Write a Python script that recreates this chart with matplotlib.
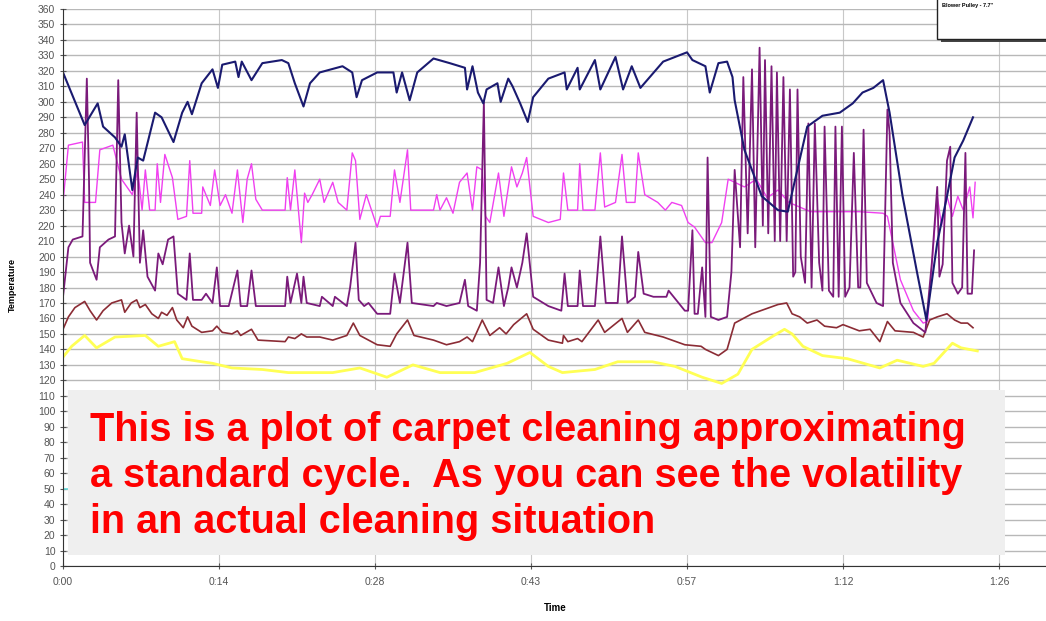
import numpy as np
import matplotlib
matplotlib.use("Agg")
import matplotlib.pyplot as plt
from matplotlib.patches import Rectangle

# time in minutes, temperature in F
navy_t = [0, 2.0, 3.2, 3.7, 4.8, 5.4, 5.7, 6.4, 6.9, 7.4, 8.5, 9.1, 10.2, 11.0, 11.5, 11.9, 12.8, 13.8,
          14.3, 14.7, 15.9, 16.2, 16.5, 17.4, 18.4, 20.2, 20.8, 21.4, 22.2, 22.8, 23.7, 25.8, 26.7, 27.1,
          27.6, 29.0, 30.5, 30.8, 31.3, 32.0, 32.7, 34.2, 35.7, 37.1, 37.3, 37.8, 38.3, 38.8, 39.1, 40.1,
          40.4, 41.1, 41.5, 42.2, 42.9, 43.4, 44.8, 46.3, 46.5, 47.5, 47.7, 49.1, 49.6, 51.0, 51.7, 52.5,
          53.3, 55.4, 57.6, 58.1, 59.3, 59.7, 60.5, 61.3, 61.8, 62.0, 62.9, 64.5, 66.0, 66.9, 68.7, 70.1,
          71.7, 72.9, 73.8, 74.8, 75.7, 76.3, 77.5, 78.8, 79.7, 80.7, 81.6, 82.3, 83.1, 84.0]
navy_v = [319, 285, 299, 284, 277, 271, 279, 243, 264, 262, 293, 290, 274, 293, 300, 292, 312, 321,
          309, 324, 326, 316, 326, 314, 325, 327, 325, 312, 297, 312, 319, 323, 319, 303,
          314, 319, 319, 306, 319, 301, 319, 328, 325, 322, 308, 323, 306, 299, 308, 312,
          300, 315, 310, 299, 287, 303, 315, 319, 308, 322, 308, 327, 308, 329, 308, 323,
          309, 326, 332, 327, 323, 306, 325, 326, 316, 301, 269, 239, 230, 229, 284, 291,
          293, 299, 306, 309, 314, 293, 239, 191, 159, 209, 239, 264, 275, 290]

magenta_t = [0, 0.5, 1.8, 2.0, 3.0, 3.4, 4.6, 5.4, 6.4, 6.9, 7.3, 7.6, 8.0, 8.5, 8.7, 9.0, 9.4, 10.1,
             10.6, 11.4, 11.7, 12.0, 12.8, 12.9, 13.6, 14.0, 14.5, 15.0, 15.6, 16.1, 16.6, 17.0, 17.4,
             17.8, 18.4, 20.5, 20.7, 21.0, 21.4, 22.0, 22.3, 22.6, 23.0, 23.7, 24.1, 24.9, 25.4, 26.2,
             26.7, 27.0, 27.4, 28.0, 29.0, 29.3, 30.2, 30.6, 31.1, 31.8, 32.1, 34.2, 34.5, 34.8, 35.4,
             36.0, 36.6, 37.3, 37.8, 38.2, 38.7, 39.0, 39.4, 40.2, 40.7, 41.4, 41.9, 42.4, 42.8, 43.4,
             44.8, 45.9, 46.2, 46.6, 47.5, 47.7, 48.0, 49.1, 49.6, 50.0, 51.0, 51.6, 52.0, 52.8, 53.1,
             53.7, 54.9, 55.6, 56.2, 57.1, 57.7, 58.3, 59.3, 59.9, 60.8, 61.4, 62.0, 62.9, 64.0, 65.0,
             66.0, 67.0, 68.0, 69.0, 71.0, 73.5, 75.7, 76.1, 77.3, 78.5, 79.4, 79.8, 80.7, 81.1, 81.6,
             82.1, 82.6, 83.1, 83.7, 84.0, 84.2]
magenta_v = [235, 272, 274, 235, 235, 269, 272, 250, 240, 256, 230, 256, 230, 230, 260, 235, 266, 251,
             224, 226, 262, 228, 228, 245, 233, 256, 233, 240, 228, 256, 222, 250, 260,
             237, 230, 230, 251, 230, 256, 209, 241, 235, 240, 250, 235, 248, 235, 230,
             267, 262, 224, 240, 219, 226, 226, 256, 235, 269, 230, 230, 240, 230, 238,
             228, 248, 254, 230, 258, 256, 226, 222, 254, 226, 258, 245, 254, 264, 226,
             222, 224, 254, 230, 230, 260, 230, 230, 267, 232, 235, 266, 235, 235, 267,
             240, 235, 230, 235, 233, 222, 219, 209, 209, 222, 250, 248, 245, 250, 238,
             243, 235, 232, 229, 229, 229, 228, 226, 185, 165, 157, 158, 239, 220, 239,
             226, 239, 230, 245, 225, 248]

purple_t = [0, 0.5, 0.9, 1.8, 2.2, 2.4, 2.5, 3.1, 3.4, 4.2, 4.8, 5.1, 5.4, 5.7, 6.1, 6.5, 6.8, 7.1, 7.4,
            7.8, 8.5, 8.8, 9.2, 9.7, 10.2, 10.6, 11.4, 11.7, 12.0, 12.8, 13.2, 13.8, 14.2, 14.5, 15.3,
            16.1, 16.4, 17.0, 17.4, 17.8, 20.5, 20.7, 21.0, 21.6, 22.0, 22.2, 22.5, 23.7, 23.9, 24.9,
            25.1, 26.2, 26.5, 27.0, 27.3, 27.8, 28.2, 29.0, 30.2, 30.6, 31.1, 31.8, 32.2, 34.2, 34.5,
            35.4, 36.6, 37.1, 37.4, 38.2, 38.5, 38.7, 38.85, 39.1, 39.7, 40.2, 40.7, 41.1, 41.4, 41.9,
            42.4, 42.8, 43.4, 44.8, 46.0, 46.3, 46.6, 47.5, 47.7, 48.0, 49.1, 49.6, 50.1, 51.2, 51.6,
            52.1, 52.8, 53.1, 53.6, 54.5, 55.7, 55.9, 57.4, 57.7, 58.1, 58.3, 58.6, 59.0, 59.3, 59.5,
            59.8, 60.5, 61.3, 61.7, 62.0, 62.5, 62.8, 63.2, 63.6, 63.9, 64.3, 64.6, 64.8, 65.1, 65.4,
            65.7, 65.9, 66.2, 66.5, 66.8, 67.1, 67.4, 67.6, 67.8, 68.1, 68.5, 68.8, 69.1, 69.4, 69.8,
            70.1, 70.3, 70.7, 71.1, 71.3, 71.6, 71.9, 72.2, 72.6, 73.0, 73.4, 73.6, 73.9, 74.2, 75.1,
            75.7, 76.1, 76.3, 76.6, 77.3, 78.5, 79.6, 80.2, 80.7, 80.9, 81.2, 81.6, 81.9, 82.1, 82.6,
            83.0, 83.3, 83.5, 83.9, 84.1]
purple_v = [174, 206, 211, 213, 315, 250, 196, 185, 206, 211, 213, 314, 222, 202, 220, 200, 293, 196, 217,
            187, 178, 202, 195, 211, 213, 176, 172, 202, 172, 172, 176, 170, 193, 168, 168,
            191, 168, 168, 191, 168, 168, 187, 170, 189, 170, 187, 170, 168, 174, 168,
            174, 168, 180, 209, 172, 168, 170, 163, 163, 189, 170, 209, 170, 168, 170,
            168, 170, 185, 168, 165, 196, 256, 300, 172, 170, 193, 168, 180, 193, 180,
            196, 215, 174, 168, 165, 189, 168, 168, 191, 168, 168, 213, 170, 170, 213,
            170, 174, 203, 176, 174, 174, 178, 165, 165, 217, 163, 163, 193, 161, 264,
            161, 159, 161, 190, 256, 206, 316, 215, 321, 206, 335, 220, 327, 215, 323,
            210, 319, 210, 316, 210, 308, 187, 190, 308, 200, 183, 286, 180, 286, 196,
            178, 284, 178, 174, 284, 174, 284, 174, 180, 267, 180, 180, 282, 183, 170,
            168, 295, 280, 196, 170, 157, 151, 196, 245, 187, 195, 262, 271, 183, 176,
            180, 267, 176, 176, 204]

brown_t = [0, 0.5, 1.1, 2.0, 2.5, 3.1, 3.7, 4.5, 5.4, 5.7, 6.3, 6.8, 7.1, 7.6, 8.2, 8.8, 9.1, 9.6, 10.1,
           10.5, 11.1, 11.5, 11.9, 12.8, 13.8, 14.2, 14.7, 15.6, 16.1, 16.4, 17.4, 18.0, 20.5, 20.8, 21.4,
           22.0, 22.5, 23.7, 24.9, 26.2, 26.8, 27.4, 29.0, 30.2, 30.8, 31.8, 32.4, 34.2, 35.4, 36.6, 37.3,
           37.8, 38.7, 39.4, 40.3, 40.9, 41.6, 42.8, 43.4, 44.8, 46.1, 46.2, 46.6, 47.5, 47.9, 49.4, 50.0,
           51.6, 52.1, 53.1, 53.7, 55.4, 57.4, 58.9, 59.3, 60.5, 61.3, 62.0, 63.6, 66.0, 66.8, 67.3, 68.0,
           68.7, 69.6, 70.3, 71.4, 72.0, 73.5, 74.5, 75.4, 76.1, 76.8, 78.5, 79.4, 80.0, 80.7, 81.6, 82.3,
           82.9, 83.5, 84.0]
brown_v = [153, 161, 167, 171, 165, 159, 165, 170, 172, 164, 170, 172, 167, 169, 163, 160, 164, 162, 167,
           159, 154, 161, 155, 151, 152, 155, 151, 150, 152, 149, 153, 146, 145, 148, 147,
           150, 148, 148, 146, 149, 157, 149, 143, 142, 150, 159, 149, 146, 143, 145, 148,
           145, 159, 149, 154, 150, 156, 163, 153, 146, 144, 149, 145, 147, 145, 159, 151,
           160, 151, 159, 151, 148, 143, 142, 140, 136, 140, 157, 163, 169, 170, 163, 161,
           157, 159, 155, 154, 156, 152, 153, 145, 158, 152, 151, 148, 159, 161, 163, 159,
           157, 157, 154]

yellow_t = [0, 0.8, 2.0, 3.1, 4.8, 7.6, 8.8, 10.3, 11.0, 12.8, 13.8, 15.6, 18.4, 20.8, 21.9, 24.9, 27.4,
            29.9, 32.3, 34.8, 38.0, 39.5, 41.0, 43.1, 44.8, 46.1, 49.1, 51.2, 54.4, 56.5, 59.0, 60.8,
            62.3, 63.6, 65.4, 66.6, 67.3, 68.3, 70.1, 72.4, 75.4, 77.0, 79.4, 80.4, 82.1, 82.9, 84.4]
yellow_v = [135, 142, 149, 141, 148, 149, 142, 145, 134, 132, 131, 128, 127, 125, 125, 125, 128,
            122, 130, 125, 125, 128, 131, 138, 129, 125, 127, 132, 132, 129, 122, 118,
            124, 140, 148, 153, 150, 142, 136, 134, 128, 133, 129, 131, 144, 141, 139]

cyan_t = [0, 84.0]
cyan_v = [50, 50]

tick_minutes = [0, 14.4, 28.8, 43.2, 57.6, 72.0, 86.4]
tick_labels = ["0:00", "0:14", "0:28", "0:43", "0:57", "1:12", "1:26"]

note_lines = ["This is a plot of carpet cleaning approximating",
              "a standard cycle.  As you can see the volatility",
              "in an actual cleaning situation"]

plt.rcParams['font.family'] = ['Liberation Sans', 'DejaVu Sans']

fig = plt.figure(figsize=(10.46, 6.21), dpi=100)
ax = fig.add_axes([63 / 1046, 55 / 621, 1 - 63 / 1046, 557 / 621])

ax.plot(cyan_t, cyan_v, color='#66dddd', lw=1.2)
ax.plot(yellow_t, yellow_v, color='#ffff55', lw=2.0)
ax.plot(brown_t, brown_v, color='#8b2c35', lw=1.2)
ax.plot(magenta_t, magenta_v, color='#f040f0', lw=1.0)
ax.plot(purple_t, purple_v, color='#7a1a7a', lw=1.3)
ax.plot(navy_t, navy_v, color='#1a1a70', lw=1.5)

ax.set_xlim(0, (1046 - 63) * 14.4 / 156)
ax.set_ylim(0, 360)
ax.set_yticks(np.arange(0, 361, 10))
ax.set_xticks(tick_minutes)
ax.set_xticklabels(tick_labels)
ax.grid(axis='y', color='#b8b8b8', lw=1.0)
ax.grid(axis='x', color='#c8c8c8', lw=0.8)
ax.set_axisbelow(True)
ax.tick_params(axis='both', labelsize=7.5, colors='#555555', length=4, direction='inout')
ax.tick_params(axis='x', pad=6)
for s in ['top', 'right']:
    ax.spines[s].set_visible(False)
ax.spines['left'].set_color('#333333')
ax.spines['bottom'].set_color('#333333')

fig.text(555 / 1046, 1 - 608 / 621, "Time", fontsize=7, fontweight='bold', ha='center', va='center')
fig.text(12 / 1046, 1 - 285 / 621, "Temperature", fontsize=6.5, fontweight='bold', rotation=90,
         ha='center', va='center')

# grey note box
fig.add_artist(Rectangle((68 / 1046, 66 / 621), 937 / 1046, 165 / 621, transform=fig.transFigure,
                         facecolor='#efefef', edgecolor='none'))
for i, line in enumerate(note_lines):
    fig.text(90 / 1046, 1 - (430 + 46 * i) / 621, line, fontsize=28.5, fontweight='bold',
             color='#ff0000', ha='left', va='center')

# legend box cut off in the corner
fig.add_artist(Rectangle((941 / 1046, 1 - 42 / 621), 110 / 1046, 45 / 621, transform=fig.transFigure,
                         facecolor='#444444', edgecolor='none'))
fig.add_artist(Rectangle((937 / 1046, 1 - 39 / 621), 110 / 1046, 45 / 621, transform=fig.transFigure,
                         facecolor='white', edgecolor='#222222', lw=1))
fig.text(942 / 1046, 1 - 5 / 621, 'Blower Pulley - 7.7"', fontsize=4, fontweight='bold', va='center')

fig.savefig('out.png', dpi=100)
